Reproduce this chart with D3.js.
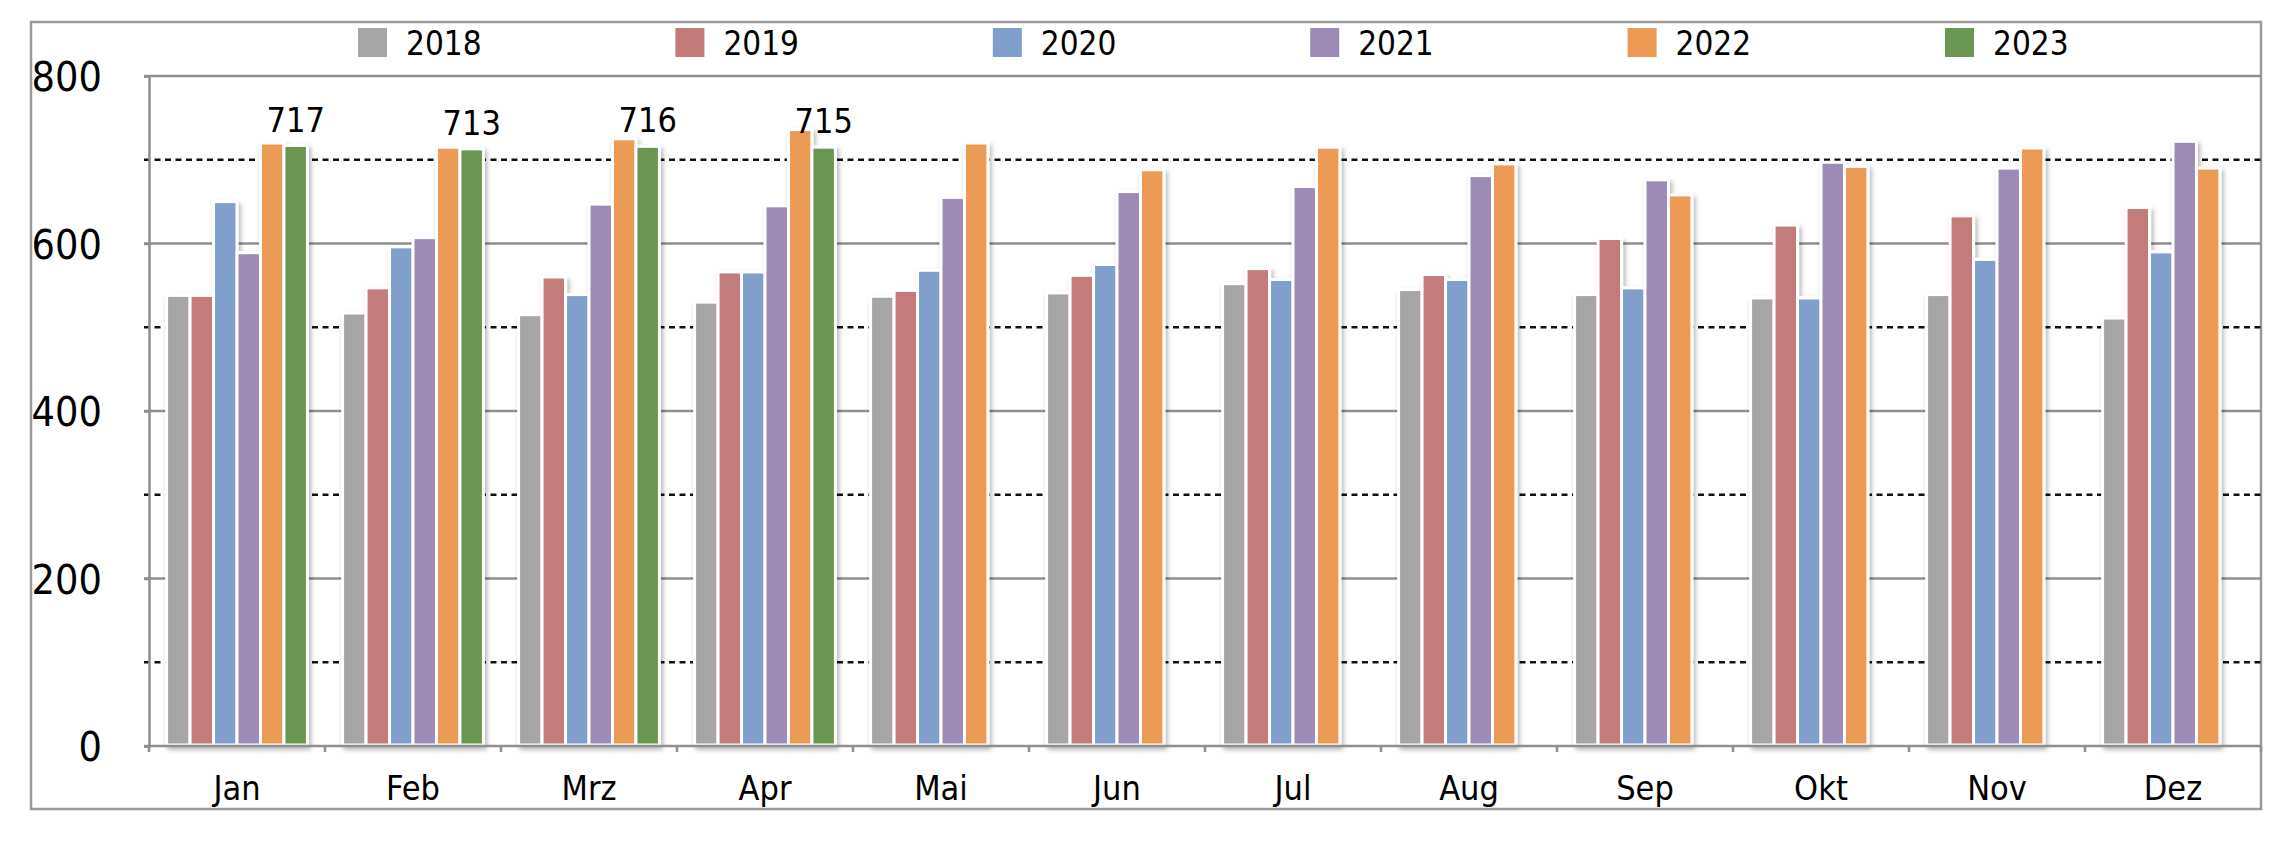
<!DOCTYPE html>
<html>
<head>
<meta charset="utf-8">
<script src="https://cdn.jsdelivr.net/npm/d3@7/dist/d3.min.js"></script>
<style>
  html, body { margin: 0; padding: 0; background: #ffffff; }
  svg { display: block; }
  text { font-family: "DejaVu Sans Condensed", "DejaVu Sans", "Liberation Sans", sans-serif; font-stretch: condensed; fill: #000; }
</style>
</head>
<body>
<svg id="chart" width="2278" height="844"></svg>
<script>
const months = ["Jan","Feb","Mrz","Apr","Mai","Jun","Jul","Aug","Sep","Okt","Nov","Dez"];
const years = ["2018","2019","2020","2021","2022","2023"];
const colors = ["#A6A6A6","#C37B7A","#819FCC","#9D8BB7","#EC9B56","#6B9651"];
const v2018 = [538,517,515,530,537,541,552,545,539,535,539,511];
const v2019 = [538,547,560,566,544,562,570,563,606,622,633,643];
const v2020 = [650,596,539,566,568,575,557,557,547,535,581,590];
const v2021 = [589,607,647,645,655,662,668,681,676,697,690,722];
const v2022 = [720,715,725,736,720,688,715,695,658,692,714,690];
const v2023 = [717,713,716,715,null,null,null,null,null,null,null,null];
const yTicks = [0,200,400,600,800];
const yDashed = [100,300,500,700];

const series = [v2018, v2019, v2020, v2021, v2022, v2023];
const FONT = '"DejaVu Sans Condensed", "DejaVu Sans", "Liberation Sans", sans-serif';

const svg = d3.select("#chart");
const plot = {left: 149, right: 2261, top: 76, bottom: 746};

// outer frame
svg.append("rect").attr("x", 31).attr("y", 22)
  .attr("width", plot.right - 31).attr("height", 809 - 22)
  .attr("fill", "#fff").attr("stroke", "#9a9a9a").attr("stroke-width", 2.5);

const defs = svg.append("defs");
const f = defs.append("filter").attr("id", "shadow")
  .attr("x", "-30%").attr("y", "-5%").attr("width", "160%").attr("height", "115%");
f.append("feDropShadow").attr("dx", 2).attr("dy", 3).attr("stdDeviation", 2.5)
  .attr("flood-color", "#000").attr("flood-opacity", 0.3);

const x0 = d3.scaleBand().domain(months).range([plot.left, plot.right])
  .paddingInner(0.2).paddingOuter(0.1);
const x1 = d3.scaleBand().domain(years).range([0, x0.bandwidth()]);
const y = d3.scaleLinear().domain([0, 800]).range([plot.bottom, plot.top]);

// solid gridlines
svg.append("g").selectAll("line").data(yTicks.filter(d => d > 0)).join("line")
  .attr("x1", plot.left - 5).attr("x2", plot.right)
  .attr("y1", d => y(d)).attr("y2", d => y(d))
  .attr("stroke", "#8f8f8f").attr("stroke-width", 2.5);

// dashed gridlines
svg.append("g").selectAll("line").data(yDashed).join("line")
  .attr("x1", plot.left - 5).attr("x2", plot.right)
  .attr("y1", d => y(d)).attr("y2", d => y(d))
  .attr("stroke", "#111").attr("stroke-width", 2.5)
  .attr("stroke-dasharray", "6,4.5");

// bars
const groups = svg.append("g").selectAll("g").data(months).join("g")
  .attr("transform", d => `translate(${x0(d)},0)`)
  .attr("filter", "url(#shadow)");

groups.selectAll("rect")
  .data((m, i) => years.map((yr, j) => ({yr, j, v: series[j][i]})).filter(d => d.v != null))
  .join("rect")
  .attr("x", d => x1(d.yr))
  .attr("width", x1.bandwidth())
  .attr("y", d => y(d.v))
  .attr("height", d => y(0) - y(d.v) - 1)
  .attr("fill", d => colors[d.j])
  .attr("stroke", "#fff").attr("stroke-width", 3);

// data labels for 2023
svg.append("g").selectAll("text")
  .data(months.map((m, i) => ({m, v: v2023[i]})).filter(d => d.v != null))
  .join("text")
  .attr("x", d => x0(d.m) + x1("2023") + x1.bandwidth() / 2)
  .attr("y", d => y(d.v) - 14)
  .attr("text-anchor", "middle")
  .attr("font-size", 34)
  .text(d => d.v);

// y axis
const yAxis = d3.axisLeft(y).tickValues(yTicks).tickSize(5).tickPadding(42);
const gy = svg.append("g").attr("transform", `translate(${plot.left},0)`).call(yAxis);
gy.select(".domain").attr("stroke", "#8f8f8f").attr("stroke-width", 2.5);
gy.selectAll(".tick line").attr("stroke", "#8f8f8f").attr("stroke-width", 2.5);
gy.selectAll(".tick text").attr("font-size", 41).attr("fill", "#000")
  .attr("font-family", FONT).attr("dy", "0.36em");

// x axis
const gx = svg.append("g").attr("transform", `translate(0,${plot.bottom})`)
  .call(d3.axisBottom(x0).tickSize(0).tickPadding(30));
gx.select(".domain").remove();
gx.append("line").attr("x1", plot.left - 5).attr("x2", plot.right)
  .attr("y1", 0).attr("y2", 0).attr("stroke", "#8f8f8f").attr("stroke-width", 2.5);
gx.selectAll(".tick text").attr("font-size", 34).attr("fill", "#000")
  .attr("font-family", FONT);
// category boundary ticks
const step = x0.step();
gx.append("g").selectAll("line").data(d3.range(months.length + 1)).join("line")
  .attr("x1", i => plot.left + i * step).attr("x2", i => plot.left + i * step)
  .attr("y1", 0).attr("y2", 6)
  .attr("stroke", "#8f8f8f").attr("stroke-width", 2.5);

// legend
const legendX = d3.scalePoint().domain(years).range([358, 1945]);
const lg = svg.append("g").selectAll("g").data(years).join("g")
  .attr("transform", d => `translate(${legendX(d)},28)`);
lg.append("rect").attr("width", 29).attr("height", 29)
  .attr("fill", (d, i) => colors[i]);
lg.append("text").attr("x", 48).attr("y", 27).attr("font-size", 33).text(d => d);
</script>
</body>
</html>
